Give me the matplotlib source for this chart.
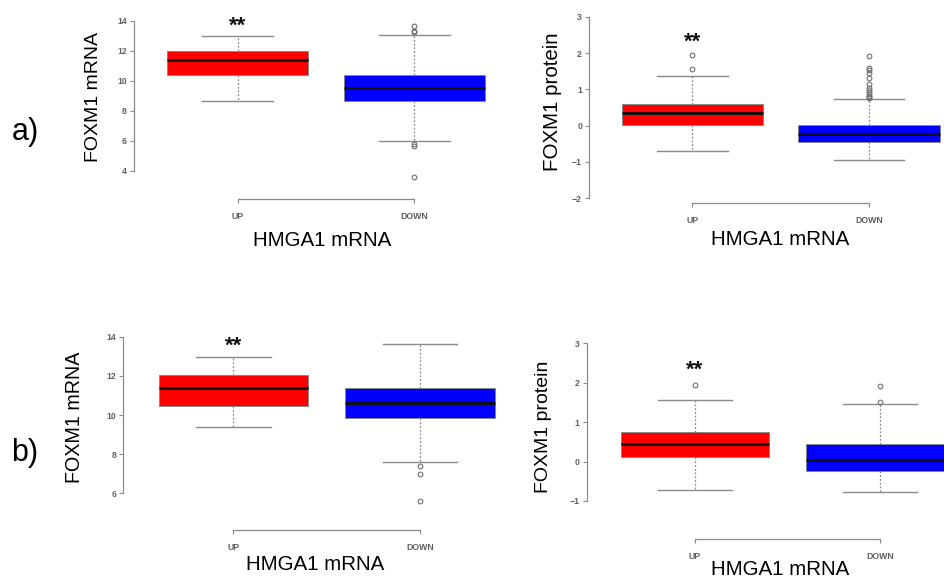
import matplotlib
matplotlib.use("Agg")
import matplotlib.pyplot as plt

plt.rcParams['font.family'] = ['Liberation Sans', 'DejaVu Sans']

W, H = 944, 580

groups = ['UP', 'DOWN']
colors = ['#ff0000', '#0000ff']

# a) left : FOXM1 mRNA vs HMGA1 mRNA
a1_lo = [8.63, 5.98]
a1_q1 = [10.38, 8.65]
a1_med = [11.38, 9.51]
a1_q3 = [12.0, 10.4]
a1_hi = [12.97, 13.05]
a1_out = [[], [13.65, 13.3, 13.22, 5.75, 5.68, 3.6]]

# a) right : FOXM1 protein
a2_lo = [-0.69, -0.94]
a2_q1 = [0.02, -0.45]
a2_med = [0.34, -0.24]
a2_q3 = [0.60, 0.02]
a2_hi = [1.37, 0.73]
a2_out = [[1.95, 1.55],
          [1.92, 1.60, 1.53, 1.45, 1.30, 1.15, 1.05, 0.98, 0.92, 0.88, 0.83, 0.79, 0.77]]

# b) left : FOXM1 mRNA
b1_lo = [9.41, 7.59]
b1_q1 = [10.48, 9.85]
b1_med = [11.4, 10.63]
b1_q3 = [12.05, 11.4]
b1_hi = [12.95, 13.61]
b1_out = [[], [7.42, 6.99, 5.6]]

# b) right : FOXM1 protein
b2_lo = [-0.71, -0.77]
b2_q1 = [0.12, -0.24]
b2_med = [0.44, 0.03]
b2_q3 = [0.74, 0.44]
b2_hi = [1.55, 1.45]
b2_out = [[1.95], [1.92, 1.50]]

a1_ticks = [4, 6, 8, 10, 12, 14]
a2_ticks = [-2, -1, 0, 1, 2, 3]
b1_ticks = [6, 8, 10, 12, 14]
b2_ticks = [-1, 0, 1, 2, 3]

a1_star, a2_star, b1_star, b2_star = 13.6, 2.31, 13.49, 2.32

GRAY = '#8a8a8a'


def fx(x):
    return x / W


def fy(y):
    return 1 - y / H


def panel(fig, lo, q1, med, q3, hi, out, ticks, star,
          left, top, right, up_x, down_x, v1, p1, v2, p2, bottom):
    ax = fig.add_axes([fx(left), fy(bottom), (right - left) / W, (bottom - top) / H])
    unit = down_x - up_x
    ax.set_xlim(1 - (up_x - left) / unit, 2 + (right - down_x) / unit)
    scale = (p2 - p1) / (v1 - v2)
    ax.set_ylim(v1 - (bottom - p1) / scale, v1 + (p1 - top) / scale)
    ax.patch.set_alpha(0)

    stats = []
    for i, g in enumerate(groups):
        stats.append(dict(label=g, whislo=lo[i], q1=q1[i], med=med[i],
                          q3=q3[i], whishi=hi[i], fliers=out[i]))
    bp = ax.bxp(stats, positions=[1, 2], widths=0.8, capwidths=0.4,
                patch_artist=True, showfliers=True,
                boxprops=dict(edgecolor=GRAY, linewidth=0.7),
                medianprops=dict(color='#111111', linewidth=2.1),
                whiskerprops=dict(color=GRAY, linewidth=0.9, linestyle=(0, (1.5, 1.5))),
                capprops=dict(color=GRAY, linewidth=1.0),
                flierprops=dict(marker='o', markersize=3.4, markerfacecolor='none',
                                markeredgecolor='#707070', markeredgewidth=0.8))
    for patch, c in zip(bp['boxes'], colors):
        patch.set_facecolor(c)
    for art in bp['boxes'] + bp['medians'] + bp['whiskers'] + bp['caps'] + bp['fliers']:
        art.set_clip_on(False)

    for s in ['top', 'right']:
        ax.spines[s].set_visible(False)
    ax.spines['left'].set_bounds(ticks[0], ticks[-1])
    ax.spines['bottom'].set_bounds(1, 2)
    for s in ['left', 'bottom']:
        ax.spines[s].set_color(GRAY)
        ax.spines[s].set_linewidth(0.9)
    ax.set_yticks(ticks)
    ax.set_yticklabels([str(t).replace('-', '\u2212') for t in ticks],
                       fontweight='bold')
    ax.set_xticks([1, 2])
    ax.set_xticklabels(groups, fontweight='bold')
    ax.tick_params(axis='y', length=3, width=0.8, color=GRAY, pad=2,
                   labelsize=6.3, labelcolor='#606060')
    ax.tick_params(axis='x', length=3, width=0.8, color=GRAY, pad=6,
                   labelsize=6.3, labelcolor='#606060')
    ax.text(1, star, '**', ha='center', va='center', fontsize=16,
            fontweight='bold', color='#111111')
    return ax


fig = plt.figure(figsize=(W / 100, H / 100), dpi=100)

panel(fig, a1_lo, a1_q1, a1_med, a1_q3, a1_hi, a1_out, a1_ticks, a1_star,
      134, 5, 505, 237.7, 414.3, 14, 20.7, 4, 170.7, 199.3)
panel(fig, a2_lo, a2_q1, a2_med, a2_q3, a2_hi, a2_out, a2_ticks, a2_star,
      589, 5, 955, 692.3, 869, 3, 16.7, -2, 198.3, 203.3)
panel(fig, b1_lo, b1_q1, b1_med, b1_q3, b1_hi, b1_out, b1_ticks, b1_star,
      123.3, 325, 505, 233.3, 420, 14, 336.7, 6, 493.3, 530)
panel(fig, b2_lo, b2_q1, b2_med, b2_q3, b2_hi, b2_out, b2_ticks, b2_star,
      586.7, 330, 990, 694.7, 880, 3, 343.3, -1, 501, 539.3)

# axis titles
fig.text(fx(94), fy(96.7), 'FOXM1 mRNA', rotation=90, ha='center', va='center', fontsize=14)
fig.text(fx(553), fy(101.7), 'FOXM1 protein', rotation=90, ha='center', va='center', fontsize=14.8)
fig.text(fx(75), fy(417), 'FOXM1 mRNA', rotation=90, ha='center', va='center', fontsize=14.2)
fig.text(fx(543.3), fy(426.7), 'FOXM1 protein', rotation=90, ha='center', va='center', fontsize=14)

fig.text(fx(321.7), fy(240.7), 'HMGA1 mRNA', ha='center', va='center', fontsize=14.8)
fig.text(fx(780), fy(239.3), 'HMGA1 mRNA', ha='center', va='center', fontsize=14.8)
fig.text(fx(315), fy(565), 'HMGA1 mRNA', ha='center', va='center', fontsize=14.8)
fig.text(fx(780), fy(569.5), 'HMGA1 mRNA', ha='center', va='center', fontsize=14.8)

fig.text(fx(25), fy(131.7), 'a)', ha='center', va='center', fontsize=22)
fig.text(fx(25), fy(453), 'b)', ha='center', va='center', fontsize=22)

fig.savefig('out.png', dpi=100)
